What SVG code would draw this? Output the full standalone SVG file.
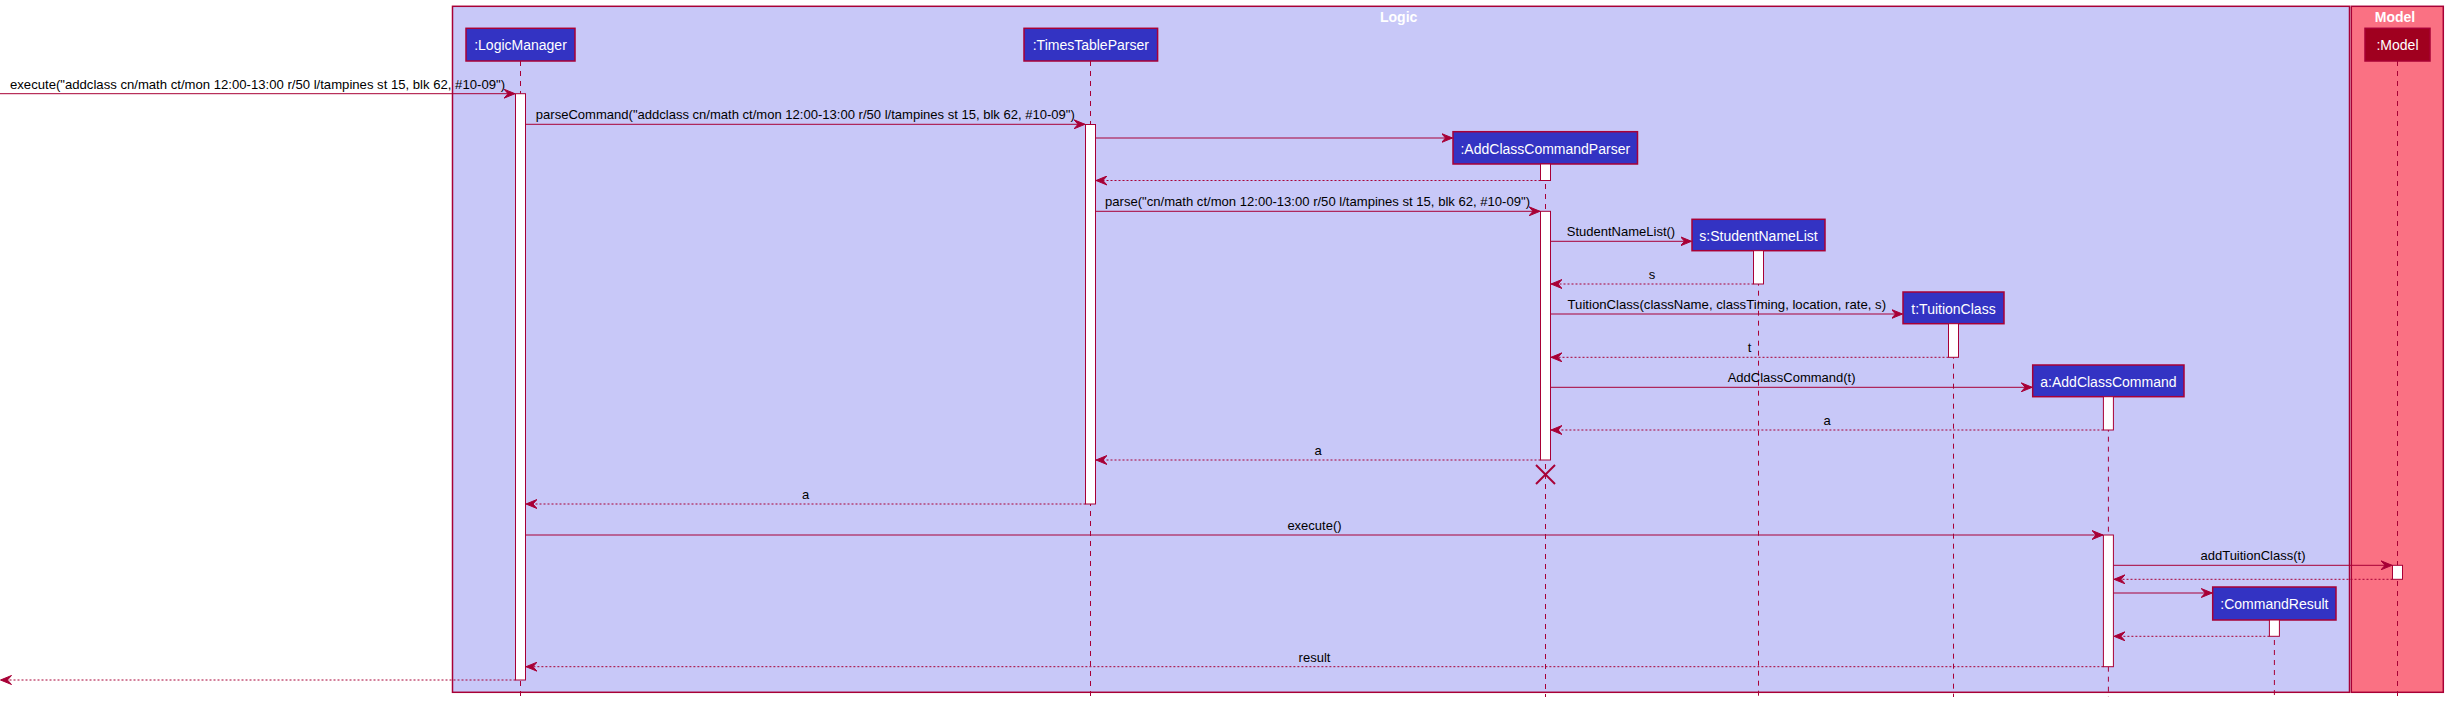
<svg xmlns="http://www.w3.org/2000/svg" width="2448" height="704" viewBox="0 0 2448 704">
<defs>
<style>
text{font-family:"Liberation Sans",Arial,sans-serif}
.box{fill:#C8C8F8;stroke:#A80036;stroke-width:1.5}
.mbox{fill:#FA7183;stroke:#A80036;stroke-width:1.5}
.title{font-size:14px;font-weight:bold;fill:#FFFFFF;text-anchor:middle}
.part rect{fill:#3333C3;stroke:#A80036;stroke-width:1.5}
.part text{font-size:14px;fill:#FFFFFF;text-anchor:middle}
.mpart rect{fill:#A0001F;stroke:#A80036;stroke-width:1.5}
.part rect.act,.mpart rect.act{fill:#FFFFFF;stroke:#A80036;stroke-width:1}
.life{stroke:#A80036;stroke-width:1;stroke-dasharray:5,5;fill:none}
.msg{stroke:#A80036;stroke-width:1;fill:none}
.ret{stroke:#A80036;stroke-width:1;stroke-dasharray:2,2;fill:none}
.lbl{font-size:13px;fill:#000000;text-anchor:middle}
.x{stroke:#A80036;stroke-width:2}
</style>
<marker id="ah" viewBox="0 0 12 10" refX="11" refY="5" markerWidth="12" markerHeight="10" markerUnits="userSpaceOnUse" orient="auto">
<path d="M0,0.5 L11,5 L0,9.5 L4,5 Z" fill="#A80036" stroke="#A80036" stroke-width="1"/>
</marker>
</defs>
<rect width="2448" height="704" fill="#FFFFFF"/>
<g id="package-logic">
<rect class="box" x="452.5" y="6.3" width="1897" height="686"/>
<text class="title" x="1398.7" y="21.7">Logic</text>
</g>
<g id="package-model">
<rect class="mbox" x="2351.3" y="6.3" width="92" height="686"/>
<text class="title" x="2395" y="21.7">Model</text>
</g>
<g id="lifelines">
<line class="life" x1="520.5" y1="61" x2="520.5" y2="697"/>
<line class="life" x1="1090.5" y1="61" x2="1090.5" y2="697"/>
<line class="life" x1="1545.5" y1="164" x2="1545.5" y2="697"/>
<line class="life" x1="1758.5" y1="250.7" x2="1758.5" y2="697"/>
<line class="life" x1="1953.5" y1="323.7" x2="1953.5" y2="697"/>
<line class="life" x1="2108.4" y1="396.7" x2="2108.4" y2="697"/>
<line class="life" x1="2274.4" y1="620" x2="2274.4" y2="697"/>
<line class="life" x1="2397.5" y1="61" x2="2397.5" y2="697"/>
</g>
<g id="LogicManager" class="part">
<rect x="466" y="28.3" width="109" height="32.7"/>
<text x="520.5" y="50">:LogicManager</text>
<rect class="act" x="515.5" y="93.7" width="10" height="586.3"/>
</g>
<g id="TimesTableParser" class="part">
<rect x="1024" y="28.3" width="133.6" height="32.7"/>
<text x="1090.8" y="50">:TimesTableParser</text>
<rect class="act" x="1085.5" y="124.5" width="10" height="379.5"/>
</g>
<g id="AddClassCommandParser" class="part">
<rect x="1453" y="131.7" width="184.5" height="32.3"/>
<text x="1545.3" y="153.5">:AddClassCommandParser</text>
<rect class="act" x="1540.5" y="164" width="10" height="16.5"/>
<rect class="act" x="1540.5" y="211.3" width="10" height="248.7"/>
</g>
<g id="StudentNameList" class="part">
<rect x="1692" y="219.3" width="133" height="31.4"/>
<text x="1758.5" y="241">s:StudentNameList</text>
<rect class="act" x="1753.5" y="250.7" width="10" height="33.3"/>
</g>
<g id="TuitionClass" class="part">
<rect x="1903" y="292" width="101" height="31.7"/>
<text x="1953.5" y="313.7">t:TuitionClass</text>
<rect class="act" x="1948.5" y="323.7" width="10" height="33.6"/>
</g>
<g id="AddClassCommand" class="part">
<rect x="2032.7" y="365" width="151.3" height="31.7"/>
<text x="2108.4" y="386.7">a:AddClassCommand</text>
<rect class="act" x="2103.4" y="396.7" width="10" height="33.3"/>
<rect class="act" x="2103.4" y="535" width="10" height="131.7"/>
</g>
<g id="CommandResult" class="part">
<rect x="2212.7" y="587" width="123.3" height="33"/>
<text x="2274.4" y="609">:CommandResult</text>
<rect class="act" x="2269.4" y="620" width="10" height="16.3"/>
</g>
<g id="Model" class="part mpart">
<rect x="2365" y="28.3" width="65" height="32.7"/>
<text x="2397.5" y="50">:Model</text>
<rect class="act" x="2392.5" y="565.3" width="10" height="14"/>
</g>
<g id="connectors">
<line class="msg" x1="0" y1="93.7" x2="515" y2="93.7" marker-end="url(#ah)"/>
<text class="lbl" x="257.5" y="88.5" textLength="495" lengthAdjust="spacingAndGlyphs">execute("addclass cn/math ct/mon 12:00-13:00 r/50 l/tampines st 15, blk 62, #10-09")</text>
<line class="msg" x1="525.5" y1="124.3" x2="1085" y2="124.3" marker-end="url(#ah)"/>
<text class="lbl" x="805.3" y="119.3" textLength="539" lengthAdjust="spacingAndGlyphs">parseCommand("addclass cn/math ct/mon 12:00-13:00 r/50 l/tampines st 15, blk 62, #10-09")</text>
<line class="msg" x1="1095.5" y1="138" x2="1452.5" y2="138" marker-end="url(#ah)"/>
<line class="ret" x1="1540.5" y1="180.5" x2="1096" y2="180.5" marker-end="url(#ah)"/>
<line class="msg" x1="1095.5" y1="211.3" x2="1540" y2="211.3" marker-end="url(#ah)"/>
<text class="lbl" x="1317.5" y="206.3" textLength="425" lengthAdjust="spacingAndGlyphs">parse("cn/math ct/mon 12:00-13:00 r/50 l/tampines st 15, blk 62, #10-09")</text>
<line class="msg" x1="1550.5" y1="241.3" x2="1691.5" y2="241.3" marker-end="url(#ah)"/>
<text class="lbl" x="1621" y="236.3">StudentNameList()</text>
<line class="ret" x1="1753.5" y1="284" x2="1551" y2="284" marker-end="url(#ah)"/>
<text class="lbl" x="1652" y="279">s</text>
<line class="msg" x1="1550.5" y1="314" x2="1902.5" y2="314" marker-end="url(#ah)"/>
<text class="lbl" x="1726.8" y="309" textLength="318.5" lengthAdjust="spacingAndGlyphs">TuitionClass(className, classTiming, location, rate, s)</text>
<line class="ret" x1="1948.5" y1="357.3" x2="1551" y2="357.3" marker-end="url(#ah)"/>
<text class="lbl" x="1749.5" y="352.3">t</text>
<line class="msg" x1="1550.5" y1="387.3" x2="2032.2" y2="387.3" marker-end="url(#ah)"/>
<text class="lbl" x="1791.6" y="382.3">AddClassCommand(t)</text>
<line class="ret" x1="2103.4" y1="430" x2="1551" y2="430" marker-end="url(#ah)"/>
<text class="lbl" x="1827" y="425">a</text>
<line class="ret" x1="1540.5" y1="460" x2="1096" y2="460" marker-end="url(#ah)"/>
<text class="lbl" x="1318" y="455">a</text>
<line class="x" x1="1536" y1="465" x2="1555" y2="484"/>
<line class="x" x1="1555" y1="465" x2="1536" y2="484"/>
<line class="ret" x1="1085.5" y1="504" x2="526" y2="504" marker-end="url(#ah)"/>
<text class="lbl" x="805.5" y="499">a</text>
<line class="msg" x1="525.5" y1="535" x2="2103" y2="535" marker-end="url(#ah)"/>
<text class="lbl" x="1314.5" y="530">execute()</text>
<line class="msg" x1="2113.4" y1="565.3" x2="2392" y2="565.3" marker-end="url(#ah)"/>
<text class="lbl" x="2253" y="560.3">addTuitionClass(t)</text>
<line class="ret" x1="2392.5" y1="579.3" x2="2114" y2="579.3" marker-end="url(#ah)"/>
<line class="msg" x1="2113.4" y1="593" x2="2212.2" y2="593" marker-end="url(#ah)"/>
<line class="ret" x1="2269.4" y1="636.3" x2="2114" y2="636.3" marker-end="url(#ah)"/>
<line class="ret" x1="2103.4" y1="666.7" x2="526" y2="666.7" marker-end="url(#ah)"/>
<text class="lbl" x="1314.5" y="661.7">result</text>
<line class="ret" x1="515.5" y1="680" x2="0.5" y2="680" marker-end="url(#ah)"/>
</g>
</svg>
